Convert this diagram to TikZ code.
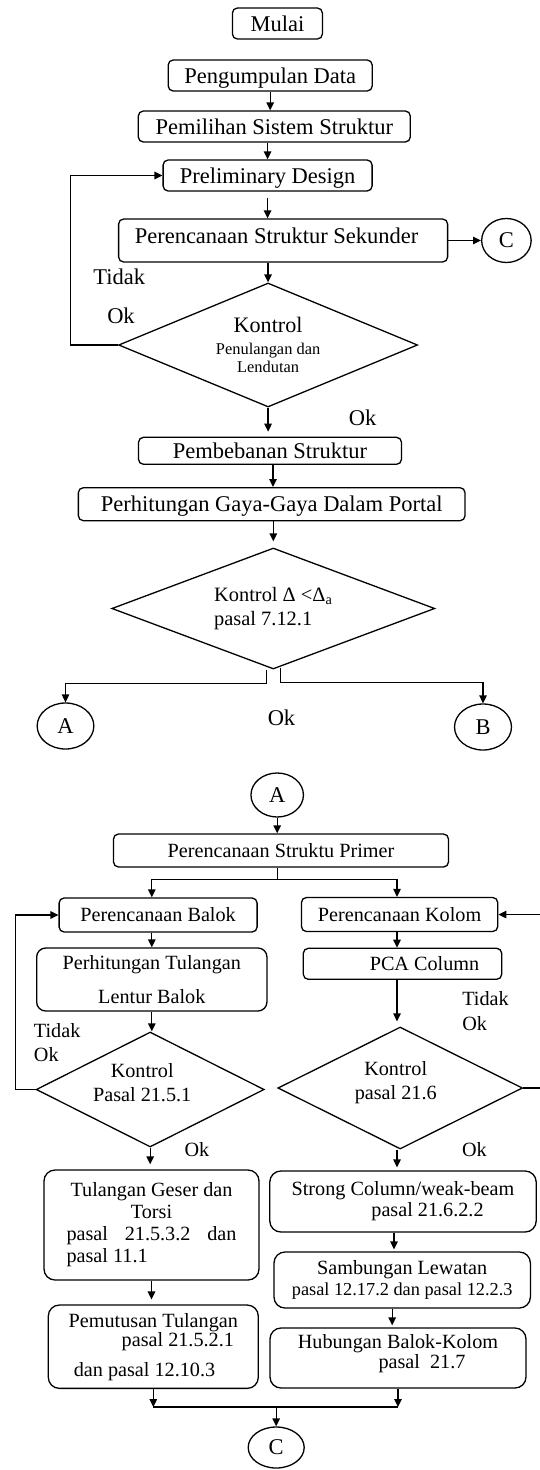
\documentclass[tikz,border=0pt]{standalone}
\usepackage{fontspec}
\setmainfont{Liberation Serif}
\usetikzlibrary{shapes.geometric,arrows.meta}
\newcommand\hurufA{\fontsize{22.5}{27}\selectfont}
\newcommand\hurufB{\fontsize{20.2}{24}\selectfont}
\newcommand\hurufK{\fontsize{16.4}{18}\selectfont}
\begin{document}
\begin{tikzpicture}[x=1pt,y=-1pt,line width=1.3pt,
                proses/.style={draw,rounded corners=5pt,inner sep=0pt,font=\hurufA,text height=15pt,text depth=0pt},
                proses2/.style={proses,font=\hurufB,text height=13.5pt},
                catatan/.style={draw,rounded corners=11pt,inner sep=0pt,align=center,font=\hurufB},
                putusan/.style={draw,diamond,inner sep=0pt,align=center,font=\hurufB},
                sambung/.style={draw,ellipse,inner sep=0pt,font=\hurufA},
                teks/.style={inner sep=0pt,anchor=west},
                panah/.style={-{Triangle[length=8pt,width=7.5pt]}}]
                \useasboundingbox (0,0) rectangle (539,1470);
                \node[proses,minimum width=90pt,minimum height=31pt] (mulai) at (277.4,23.5) {Mulai};
                \node[proses,minimum width=204pt,minimum height=31pt] (data) at (270.2,75.5) {Pengumpulan Data};
                \node[proses,minimum width=272pt,minimum height=31pt] (sistem) at (274.3,126.5) {Pemilihan Sistem Struktur};
                \node[proses,minimum width=209pt,minimum height=31pt] (prelim) at (267.6,175.5) {Preliminary Design};
                \node[proses,minimum width=329pt,minimum height=43pt,text depth=9pt] (sekunder) at (283.1,240.5) {Perencanaan Struktur Sekunder\hspace*{13pt}};
                \node[sambung,minimum width=49.5pt,minimum height=44pt] (cC1) at (506.4,240.5) {C};
                \node[putusan,shape aspect=2.4,minimum width=299pt,minimum height=124pt,font=\fontsize{22.1}{22}\selectfont] (k1) at (268.1,345) {Kontrol\\\hurufK Penulangan dan\\[-4pt]\hurufK Lendutan};
                \node[proses,minimum width=263pt,minimum height=27pt] (beban) at (270,450.8) {Pembebanan Struktur};
                \node[proses,minimum width=386.7pt,minimum height=33pt] (hitung) at (271.7,504.2) {Perhitungan Gaya-Gaya Dalam Portal};
                \node[putusan,shape aspect=2.67,minimum width=323pt,minimum height=121pt,align=left,font=\fontsize{20.4}{24}\selectfont] (k2) at (273.3,608.5) {Kontrol Δ <Δ\textsubscript{a}\\pasal 7.12.1};
                \node[sambung,minimum width=56.7pt,minimum height=46pt] (cA) at (65.5,726) {A};
                \node[sambung,minimum width=57pt,minimum height=46pt] (cB) at (483,727) {B};
                \node[teks,font=\hurufA] (tidak1) at (92.8,277) {Tidak};
                \node[teks,font=\hurufA] (ok1) at (106.6,316) {Ok};
                \node[inner sep=0pt,font=\hurufA] (ok2) at (362.7,418) {Ok};
                \node[inner sep=0pt,font=\hurufA] (ok3) at (281.5,717.7) {Ok};

                \draw[panah] (data.south) -- (data.south |- sistem.north);
                \draw[panah] (prelim.north |- sistem.south) -- (prelim.north);
                \draw[panah] ([yshift=-6pt]prelim.south) -- (prelim.south |- sekunder.north);
                \draw[panah] (sekunder.east) -- (cC1.west);
                \draw[panah] (k1.north |- sekunder.south) -- (k1.north);
                \draw[panah] (k1.west) -- ++(-47.4,0) |- (prelim.west);
                \draw[panah] (k1.south) -- ([yshift=5pt]k1.south |- beban.north);
                \draw[panah] ([xshift=3pt]beban.south) -- ([xshift=3pt]beban.south |- hitung.north);
                \draw[panah] (k2.north |- hitung.south) -- ([yshift=6pt]k2.north);
                \draw[panah] ([xshift=-7pt]k2.south) -- ++(0,14) -| (cA.north);
                \draw[panah] ([xshift=7pt,yshift=2pt]k2.south) -- ++(0,15) -| (cB.north);

                \coordinate (jalurK) at (397,0);
                \node[sambung,minimum width=52.5pt,minimum height=44pt] (cA2) at (277.2,795) {A};
                \node[proses2,minimum width=335pt,minimum height=33pt] (primer) at (281,850.5) {Perencanaan Struktu Primer};
                \node[proses2,minimum width=198pt,minimum height=34pt] (balok) at (158.1,915) {Perencanaan Balok};
                \node[proses2,minimum width=196.3pt,minimum height=34pt] (kolom) at (399.6,914.5) {Perencanaan Kolom};
                \node[catatan,rounded corners=9pt,minimum width=230.3pt,minimum height=63pt] (tul) at (151.8,979.5) {Perhitungan Tulangan\\[10pt]Lentur Balok};
                \node[proses2,minimum width=198.4pt,minimum height=31pt] (pca) at (402.5,963.8) {\hspace*{44pt}PCA Column};
                \node[putusan,shape aspect=2,minimum width=228pt,minimum height=115pt] (kb) at (150.2,1089.5) {Kontrol\hspace*{16pt}\\Pasal 21.5.1\hspace*{16pt}\rule[-15pt]{0pt}{0pt}};
                \node[putusan,shape aspect=2,minimum width=244.7pt,minimum height=122pt] (kk) at (400.2,1088) {Kontrol\hspace*{9pt}\\pasal 21.6\hspace*{9pt}\rule[-16pt]{0pt}{0pt}};
                \node[catatan,minimum width=215pt,minimum height=110pt,font=\fontsize{20.2}{22}\selectfont] (geser) at (151.5,1225) {Tulangan Geser dan\\Torsi\hspace*{14pt}\\\makebox[170pt][s]{pasal\hfill 21.5.3.2\hfill dan}\\\makebox[170pt][l]{pasal 11.1}};
                \node[catatan,minimum width=266.4pt,minimum height=61pt,font=\fontsize{20.2}{21}\selectfont] (strong) at (403,1201.5) {Strong Column/weak-beam\\\hspace*{49pt}pasal 21.6.2.2};
                \node[catatan,minimum width=210pt,minimum height=83.3pt,font=\fontsize{20.2}{22}\selectfont] (pem) at (153.3,1346.7) {Pemutusan Tulangan\\[-3pt]\hspace*{49pt}pasal 21.5.2.1\\[8pt]dan pasal 12.10.3\hspace*{17.6pt}};
                \node[catatan,minimum width=256.4pt,minimum height=56pt,font=\fontsize{20.2}{21}\selectfont] (samb) at (402.2,1280) {Sambungan Lewatan\\{\fontsize{18.3}{21}\selectfont pasal 12.17.2 dan pasal 12.2.3}};
                \node[catatan,minimum width=256pt,minimum height=60pt,font=\fontsize{20.2}{20}\selectfont] (hub) at (398,1358) {Hubungan Balok-Kolom\\\hspace*{48pt}pasal\ \ 21.7\rule[-14pt]{0pt}{0pt}};
                \node[sambung,minimum width=56pt,minimum height=41pt] (cC2) at (276.2,1447.5) {C};
                \node[teks,font=\hurufB] (tidak2) at (33.3,1031) {Tidak};
                \node[teks,font=\hurufB] (ok4) at (33.3,1055) {Ok};
                \node[teks,font=\hurufB] (tidak3) at (461.7,999) {Tidak};
                \node[teks,font=\hurufB] (ok5) at (461.7,1023.5) {Ok};
                \node[inner sep=0pt,font=\hurufB] (ok6) at (197,1150) {Ok};
                \node[inner sep=0pt,font=\hurufB] (ok7) at (474.4,1150) {Ok};
                \coordinate (gabung) at (275,1407);

                \draw[panah] (cA2.south) -- (cA2.south |- primer.north);
                \draw (cA2.south |- primer.south) -- ++(0,12) coordinate (bagi);
                \draw[panah] (bagi) -| (tul.north |- balok.north);
                \draw[panah] (bagi) -| (jalurK |- kolom.north);
                \draw[panah] (tul.north |- balok.south) -- (tul.north);
                \draw[panah] (jalurK |- kolom.south) -- (jalurK |- pca.north);
                \draw[panah] (tul.south) -- (tul.south |- kb.north);
                \draw[panah] (jalurK |- pca.south) -- ([yshift=5pt]jalurK |- kk.north);
                \draw[panah] (kb.west) -- ++(-20,0) |- (balok.west);
                \draw[panah] (kk.east) -- ++(30,0) |- (kolom.east);
                \draw[panah] (kb.south) -- ([yshift=5pt]kb.south |- geser.north);
                \draw[panah] (jalurK |- kk.south) -- ([yshift=3pt]jalurK |- strong.north);
                \draw[panah] (geser.south) -- ([yshift=5pt]geser.south |- pem.north);
                \draw[panah] ([xshift=-9pt]strong.south) -- ([xshift=-9pt,yshift=2pt]strong.south |- samb.north);
                \draw[panah] ([xshift=-10pt]samb.south) -- ([xshift=-10pt,yshift=2pt]samb.south |- hub.north);
                \draw[panah] (pem.south) -- (pem.south |- gabung);
                \draw[panah] (hub.south) -- (hub.south |- gabung);
                \draw (pem.south |- gabung) -- (hub.south |- gabung);
                \draw[panah] (cC2.north |- gabung) -- (cC2.north);
            \end{tikzpicture}
\end{document}
